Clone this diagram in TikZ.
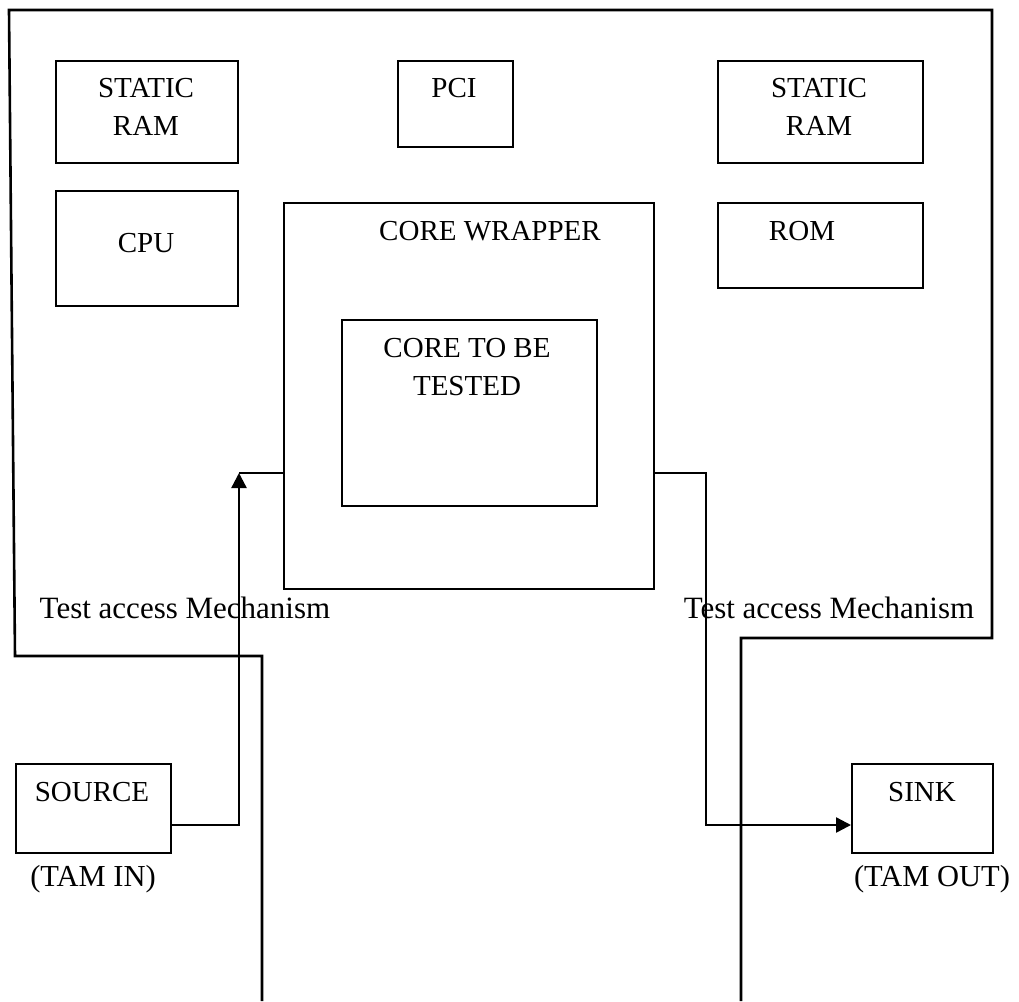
\documentclass[tikz,border=0pt]{standalone}
\usepackage{fontspec}
\setmainfont{Liberation Serif}
\usetikzlibrary{arrows.meta}
\begin{document}
\begin{tikzpicture}[x=1pt,y=-1pt,
  box/.style={draw, line width=2.2pt, inner sep=0pt, anchor=north west},
  txt/.style={inner sep=0pt, anchor=base, font=\fontsize{29}{38}\selectfont},
  lbl/.style={inner sep=0pt, anchor=base, font=\fontsize{30.5}{38}\selectfont},
  wire/.style={line width=2.4pt},
  arr/.style={line width=2.4pt, -{Triangle[length=15pt,width=15pt]}}]
\useasboundingbox (0,0) rectangle (1019,1001);

% chip outline and the two TAM bus lines leaving it
\draw[line width=2.6pt] (262,1001) -- (262,656) -- (15,656) -- (9,10) -- (992,10)
  -- (992,638) -- (741,638) -- (741,1001);

% on-chip blocks
\node[box, minimum width=182pt, minimum height=102pt] (sram1) at (55,60) {};
\node[txt] (sram1t) at (146,97) {STATIC};
\node[txt] (sram1b) at (146,135) {RAM};

\node[box, minimum width=115pt, minimum height=86pt] (pci) at (397,60) {};
\node[txt] (pcit) at (454,97) {PCI};

\node[box, minimum width=205pt, minimum height=102pt] (sram2) at (717,60) {};
\node[txt] (sram2t) at (819,97) {STATIC};
\node[txt] (sram2b) at (819,135) {RAM};

\node[box, minimum width=182pt, minimum height=115pt] (cpu) at (55,190) {};
\node[txt] (cput) at (146,252) {CPU};

\node[box, minimum width=205pt, minimum height=85pt] (rom) at (717,202) {};
\node[txt] (romt) at (802,240) {ROM};

\node[box, minimum width=370pt, minimum height=386pt] (wrap) at (283,202) {};
\node[txt] (wrapt) at (490,240) {CORE WRAPPER};

\node[box, minimum width=255pt, minimum height=186pt] (core) at (341,319) {};
\node[txt] (coret) at (467,357) {CORE TO BE};
\node[txt] (coreb) at (467,395) {TESTED};

% bus labels
\node[lbl, font=\fontsize{31}{38}\selectfont] (taml) at (185,618) {Test access Mechanism};
\node[lbl, font=\fontsize{31}{38}\selectfont] (tamr) at (829,618) {Test access Mechanism};

% off-chip source and sink
\node[box, minimum width=155pt, minimum height=89pt] (src) at (15,763) {};
\node[txt] (srct) at (92,801) {SOURCE};
\node[lbl] (tamin) at (93,886) {(TAM IN)};

\node[box, minimum width=141pt, minimum height=89pt] (sink) at (851,763) {};
\node[txt] (sinkt) at (922,801) {SINK};
\node[lbl] (tamout) at (932,886) {(TAM OUT)};

% test data paths
\coordinate (inturn) at (239,473);
\coordinate (outturn) at (706,473);
\draw[arr] (src.east |- 0,825) -| (inturn);
\draw[wire] (inturn) -- (wrap.west |- inturn);
\draw[arr] (wrap.east |- outturn) -- (outturn) -- (outturn |- 0,825) -- (sink.west |- 0,825);
\end{tikzpicture}
\end{document}
